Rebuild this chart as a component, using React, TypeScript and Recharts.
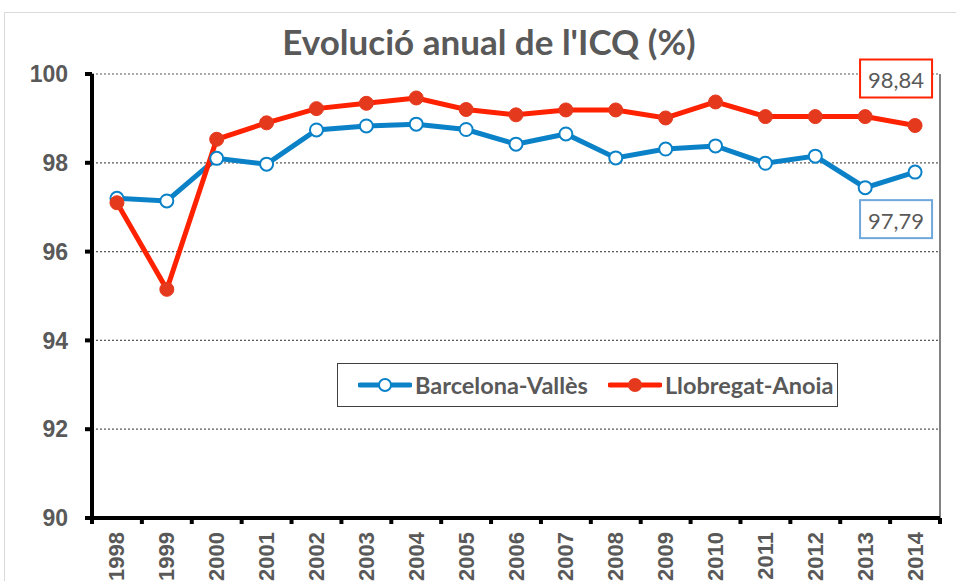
import React from 'react';
import {
  LineChart,
  Line,
  XAxis,
  YAxis,
  CartesianGrid,
  Legend,
  LabelList,
  ReferenceLine,
} from 'recharts';

const years = [1998, 1999, 2000, 2001, 2002, 2003, 2004, 2005, 2006, 2007, 2008, 2009, 2010, 2011, 2012, 2013, 2014];
const barcelonaValles = [97.2, 97.14, 98.1, 97.97, 98.74, 98.83, 98.87, 98.75, 98.42, 98.65, 98.11, 98.31, 98.38, 97.99, 98.15, 97.44, 97.79];
const llobregatAnoia = [97.1, 95.15, 98.53, 98.9, 99.22, 99.34, 99.46, 99.2, 99.08, 99.19, 99.19, 99.01, 99.37, 99.04, 99.04, 99.04, 98.84];
const yTicks = [90, 92, 94, 96, 98, 100];

const BLUE = '#0B82C8';
const RED = '#FF2200';
const RED_DOT = '#E5391D';
const GREY = '#595959';

const data = years.map((year, i) => ({
  year,
  bv: barcelonaValles[i],
  la: llobregatAnoia[i],
}));

// tick marks sit between categories, labels in the middle of each one
const boundaryTicks = [...years.map((y) => y - 0.5), years[years.length - 1] + 0.5];

const YearTick = (props: any) => {
  const { x, y, payload, width } = props;
  const half = width / years.length / 2;
  const year = payload.value + 0.5;
  if (year > years[years.length - 1]) return null;
  return (
    <text
      transform={`translate(${x + half}, ${y + 4}) rotate(-90)`}
      textAnchor="end"
      dominantBaseline="central"
      fill={GREY}
      fontFamily="'Liberation Sans', Arial, sans-serif"
      fontWeight="bold"
      fontSize={22}
    >
      {year}
    </text>
  );
};

const endLabel = (border: string, dy: number) => (props: any) => {
  const { x, y, index, value } = props;
  if (index !== years.length - 1) return null;
  const cx = x - 19;
  const cy = y + dy;
  return (
    <g>
      <rect x={cx - 36} y={cy - 19} width={72} height={38} fill="#fff" stroke={border} strokeWidth={2} />
      <text
        x={cx}
        y={cy + 1}
        textAnchor="middle"
        dominantBaseline="central"
        fill={GREY}
        fontFamily="Lato, sans-serif"
        fontSize={22}
      >
        {Number(value).toFixed(2).replace('.', ',')}
      </text>
    </g>
  );
};

const renderLegend = (props: any) => {
  const { payload } = props;
  return (
    <div
      style={{
        border: '1.5px solid #404040',
        height: 44,
        boxSizing: 'border-box',
        display: 'flex',
        alignItems: 'center',
        paddingLeft: 20,
        gap: 20,
        background: '#fff',
      }}
    >
      {payload.map((entry: any) => {
        const filled = entry.dataKey === 'la';
        return (
          <div key={entry.value} style={{ display: 'flex', alignItems: 'center' }}>
            <svg width={54} height={20}>
              <line x1={2} y1={10} x2={52} y2={10} stroke={entry.color} strokeWidth={5} strokeLinecap="round" />
              <circle
                cx={27}
                cy={10}
                r={6}
                fill={filled ? RED_DOT : '#fff'}
                stroke={filled ? RED_DOT : BLUE}
                strokeWidth={2}
              />
            </svg>
            <span
              style={{
                marginLeft: 3,
                fontFamily: 'Lato, sans-serif',
                fontWeight: 'bold',
                fontSize: 23.5,
                color: GREY,
              }}
            >
              {entry.value}
            </span>
          </div>
        );
      })}
    </div>
  );
};

const App = () => {
  return (
    <div
      style={{
        position: 'fixed',
        left: 0,
        top: 0,
        width: 956,
        height: 581,
        overflow: 'hidden',
        background: '#fff',
      }}
    >
      <div
        style={{
          position: 'absolute',
          left: 4,
          top: 12,
          width: 1000,
          height: 700,
          border: '1px solid #d9d9d9',
        }}
      />
      <div
        style={{
          position: 'absolute',
          left: 22,
          top: 20,
          width: 934,
          textAlign: 'center',
          fontFamily: 'Lato, sans-serif',
          fontWeight: 'bold',
          fontSize: 35,
          color: GREY,
        }}
      >
        Evolució anual de l'ICQ (%)
      </div>
      <div style={{ position: 'absolute', left: 0, top: 0 }}>
        <LineChart
          width={956}
          height={581}
          data={data}
          margin={{ top: 74, right: 16, bottom: 3, left: 20 }}
        >
          <CartesianGrid vertical={false} stroke={GREY} strokeDasharray="2 2" strokeWidth={1.2} />
          <ReferenceLine x={2014.5} stroke={GREY} strokeWidth={1.5} />
          <XAxis
            dataKey="year"
            type="number"
            domain={[1997.5, 2014.5]}
            ticks={boundaryTicks}
            interval={0}
            height={60}
            axisLine={{ stroke: '#000', strokeWidth: 4 }}
            tickLine={{ stroke: '#000', strokeWidth: 4 }}
            tickSize={6}
            tickMargin={4}
            tick={<YearTick />}
          />
          <YAxis
            domain={[90, 100]}
            ticks={yTicks}
            width={72}
            interval={0}
            axisLine={{ stroke: '#000', strokeWidth: 4 }}
            tickLine={{ stroke: '#000', strokeWidth: 4 }}
            tickSize={7}
            tickMargin={17}
            tick={{
              fill: GREY,
              fontFamily: "'Liberation Sans', Arial, sans-serif",
              fontWeight: 'bold',
              fontSize: 23,
            }}
          />
          <Legend
            layout="horizontal"
            verticalAlign="middle"
            align="center"
            content={renderLegend}
            wrapperStyle={{ left: 337, top: 363, width: 501, height: 44 }}
          />
          <Line
            dataKey="bv"
            name="Barcelona-Vallès"
            stroke={BLUE}
            strokeWidth={5}
            dot={{ r: 6.5, fill: '#fff', stroke: BLUE, strokeWidth: 2 }}
            isAnimationActive={false}
          >
            <LabelList dataKey="bv" content={endLabel('#6FA8DC', 47)} />
          </Line>
          <Line
            dataKey="la"
            name="Llobregat-Anoia"
            stroke={RED}
            strokeWidth={5}
            dot={{ r: 7, fill: RED_DOT, stroke: RED_DOT, strokeWidth: 1 }}
            isAnimationActive={false}
          >
            <LabelList dataKey="la" content={endLabel('#FF2200', -47)} />
          </Line>
        </LineChart>
      </div>
    </div>
  );
};

export default App;
